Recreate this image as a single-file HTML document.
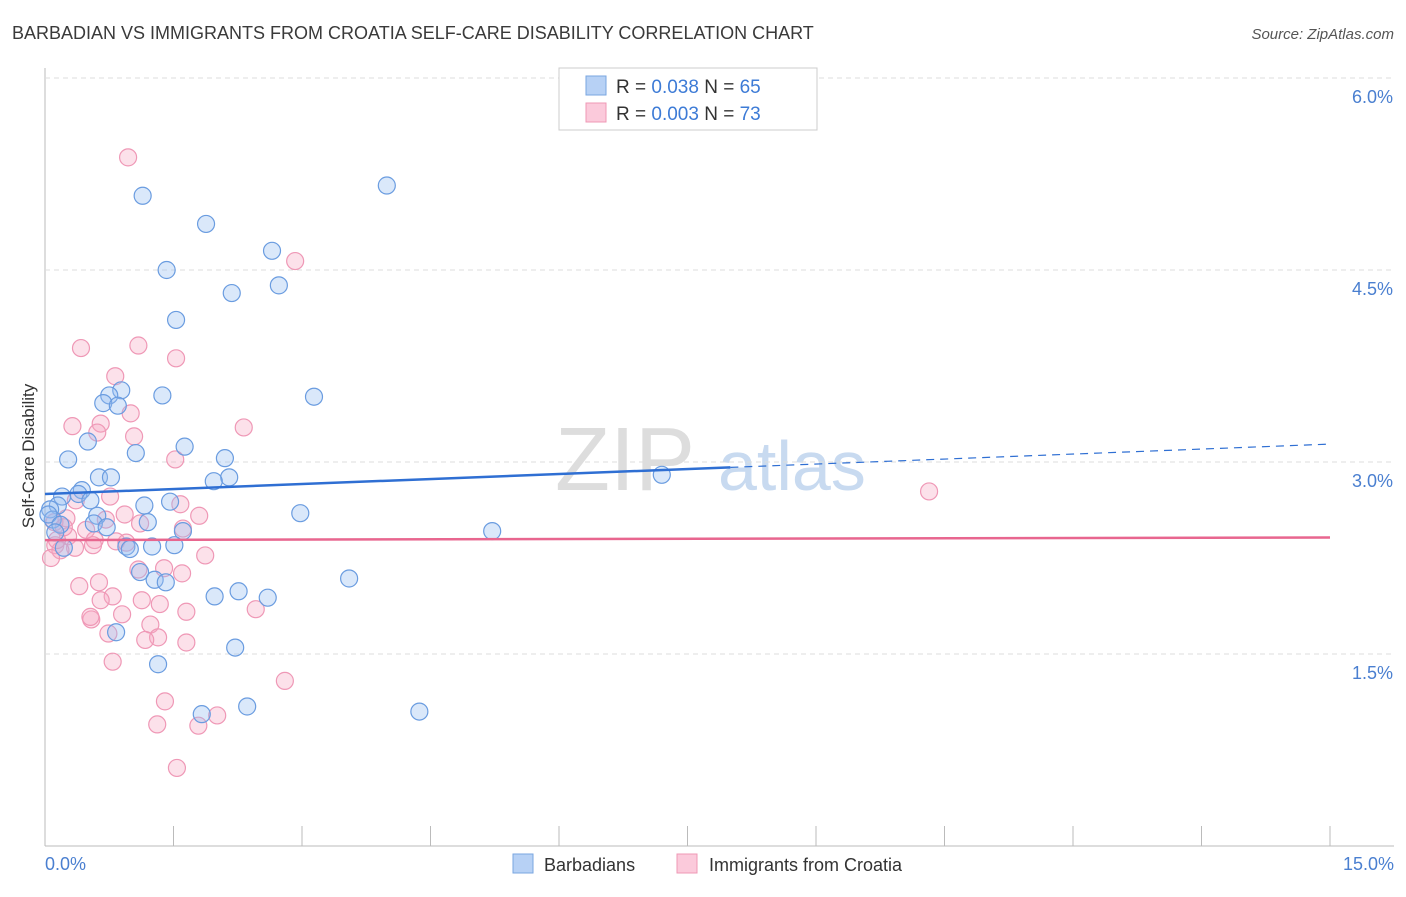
<!DOCTYPE html>
<html><head><meta charset="utf-8"><style>
body{margin:0;background:#fff;font-family:"Liberation Sans",sans-serif;}
svg text{font-family:"Liberation Sans",sans-serif;}
</style></head><body>
<svg id="chart" width="1406" height="892" xmlns="http://www.w3.org/2000/svg">
<text x="12" y="39" font-size="18" fill="#3a3a3a">BARBADIAN VS IMMIGRANTS FROM CROATIA SELF-CARE DISABILITY CORRELATION CHART</text>
<text x="1394" y="39" font-size="15" fill="#555" text-anchor="end" font-style="italic">Source: ZipAtlas.com</text>
<text x="555" y="490" font-size="90" fill="#ddd" font-family="Liberation Serif">ZIP</text>
<text x="718" y="490" font-size="70" fill="#c8daf0">atlas</text>
<g id="grid"></g><g id="pts"></g><g id="lines"></g>
<text transform="translate(34,456) rotate(-90)" font-size="17" fill="#333" text-anchor="middle">Self-Care Disability</text>
<text x="45" y="870" font-size="18" fill="#4a7fd0">0.0%</text>
<text x="1394" y="870" font-size="18" fill="#4a7fd0" text-anchor="end">15.0%</text>
<g>
<rect x="559" y="68" width="258" height="62" fill="#fff" stroke="#ccc"/>
<rect x="586" y="76" width="20" height="19" fill="#b7d1f5" stroke="#7aa6e0"/>
<rect x="586" y="103" width="20" height="19" fill="#fbcadb" stroke="#ef98b6"/>
<text x="616" y="93" font-size="19" fill="#333">R = <tspan fill="#3d7bd6">0.038</tspan>   N = <tspan fill="#3d7bd6">65</tspan></text>
<text x="616" y="120" font-size="19" fill="#333">R = <tspan fill="#3d7bd6">0.003</tspan>   N = <tspan fill="#3d7bd6">73</tspan></text>
</g>
<g>
<rect x="513" y="854" width="20" height="19" fill="#b7d1f5" stroke="#7aa6e0"/>
<text x="544" y="871" font-size="18" fill="#333">Barbadians</text>
<rect x="677" y="854" width="20" height="19" fill="#fbcadb" stroke="#ef98b6"/>
<text x="709" y="871" font-size="18" fill="#333">Immigrants from Croatia</text>
</g>
</svg>
<script>
const yTicks=[1.5,3.0,4.5,6.0];
const xTicks=[0,1.5,3,4.5,6,7.5,9,10.5,12,13.5,15];
const blue=[[1.14,5.08],[3.99,5.16],[1.88,4.86],[1.42,4.50],[2.65,4.65],[2.73,4.38],[2.18,4.32],[1.53,4.11],[3.14,3.51],[1.37,3.52],[0.89,3.56],[0.75,3.52],[0.68,3.46],[0.85,3.44],[0.50,3.16],[1.63,3.12],[0.27,3.02],[1.06,3.07],[2.10,3.03],[2.15,2.88],[1.97,2.85],[0.63,2.88],[0.77,2.88],[7.20,2.90],[0.43,2.78],[0.39,2.75],[0.20,2.73],[0.53,2.70],[0.15,2.66],[0.06,2.63],[0.09,2.55],[1.16,2.66],[1.46,2.69],[2.98,2.60],[0.61,2.58],[1.20,2.53],[0.57,2.52],[0.72,2.49],[1.61,2.46],[5.22,2.46],[0.95,2.34],[0.99,2.32],[1.25,2.34],[1.51,2.35],[0.22,2.33],[1.11,2.14],[1.28,2.08],[1.41,2.06],[3.55,2.09],[1.98,1.95],[2.26,1.99],[2.60,1.94],[0.83,1.67],[2.22,1.55],[1.32,1.42],[1.83,1.03],[2.36,1.09],[4.37,1.05],[0.04,2.59],[0.18,2.51],[0.12,2.45]];
const pink=[[0.97,5.38],[2.92,4.57],[0.42,3.89],[1.09,3.91],[1.53,3.81],[0.82,3.67],[1.00,3.38],[0.32,3.28],[0.65,3.30],[0.61,3.23],[1.04,3.20],[2.32,3.27],[1.52,3.02],[10.32,2.77],[0.76,2.73],[0.36,2.70],[1.58,2.67],[1.80,2.58],[0.93,2.59],[0.25,2.56],[0.71,2.55],[1.11,2.52],[1.61,2.48],[0.11,2.53],[0.48,2.47],[0.27,2.42],[0.58,2.39],[0.83,2.38],[0.12,2.35],[0.35,2.33],[0.18,2.31],[0.56,2.35],[0.95,2.37],[1.87,2.27],[0.07,2.25],[1.39,2.17],[1.60,2.13],[1.09,2.16],[0.63,2.06],[0.40,2.03],[0.79,1.95],[0.65,1.92],[1.13,1.92],[1.34,1.89],[1.65,1.83],[2.46,1.85],[0.90,1.81],[0.54,1.77],[1.23,1.73],[0.74,1.66],[1.32,1.63],[1.17,1.61],[1.65,1.59],[0.79,1.44],[2.80,1.29],[1.40,1.13],[1.31,0.95],[1.79,0.94],[2.01,1.02],[1.54,0.61],[0.14,2.39],[0.22,2.49],[0.53,1.79]];
const blueTrend=[2.75,3.14];
const pinkTrend=[2.39,2.41];
const NS="http://www.w3.org/2000/svg";
const X=v=>45+v/15*1285, Y=v=>846-v/6*768;
function mk(tag,attrs,parent){const e=document.createElementNS(NS,tag);for(const k in attrs)e.setAttribute(k,attrs[k]);parent.appendChild(e);return e;}
const grid=document.getElementById('grid');
let ax=mk('line',{x1:45,y1:68,x2:45,y2:846,stroke:'#bbb'},grid);


let bx=mk('line',{x1:45,y1:846,x2:1394,y2:846,stroke:'#bbb'},grid);


yTicks.forEach(t=>{
 let l=mk('line',{x1:45,x2:1394,y1:Y(t),y2:Y(t),stroke:'#ddd','stroke-dasharray':'5,4'},grid);
 
 
 let tx=mk('text',{x:1393,y:Y(t)+25,'font-size':18,fill:'#4a7fd0','text-anchor':'end'},grid);
 tx.textContent=t.toFixed(1)+'%';
 
 
});
xTicks.forEach(t=>{
 let l=mk('line',{x1:X(t),x2:X(t),y1:826,y2:846,stroke:'#bbb'},grid);
 
 
});
const pts=document.getElementById('pts');
pink.forEach(p=>{let c=mk('circle',{cx:X(p[0]),cy:Y(p[1]),r:8.5,fill:'rgba(247,170,196,0.35)',stroke:'#ef98b6','stroke-width':1.2},pts);
 
 });
blue.forEach(p=>{let c=mk('circle',{cx:X(p[0]),cy:Y(p[1]),r:8.5,fill:'rgba(150,190,240,0.35)',stroke:'#6a9ce0','stroke-width':1.2},pts);
 
 });
const lines=document.getElementById('lines');
const bAt=x=>blueTrend[0]+(blueTrend[1]-blueTrend[0])*x/15;
let b1=mk('line',{x1:X(0),y1:Y(bAt(0)),x2:X(8),y2:Y(bAt(8)),stroke:'#2f6fd3','stroke-width':2.5},lines);


let b2=mk('line',{x1:X(8),y1:Y(bAt(8)),x2:X(15),y2:Y(bAt(15)),stroke:'#2f6fd3','stroke-width':1.2,'stroke-dasharray':'8,6'},lines);


let p1=mk('line',{x1:X(0),y1:Y(pinkTrend[0]),x2:X(15),y2:Y(pinkTrend[1]),stroke:'#e8668f','stroke-width':2.5},lines);


</script>
</body></html>
